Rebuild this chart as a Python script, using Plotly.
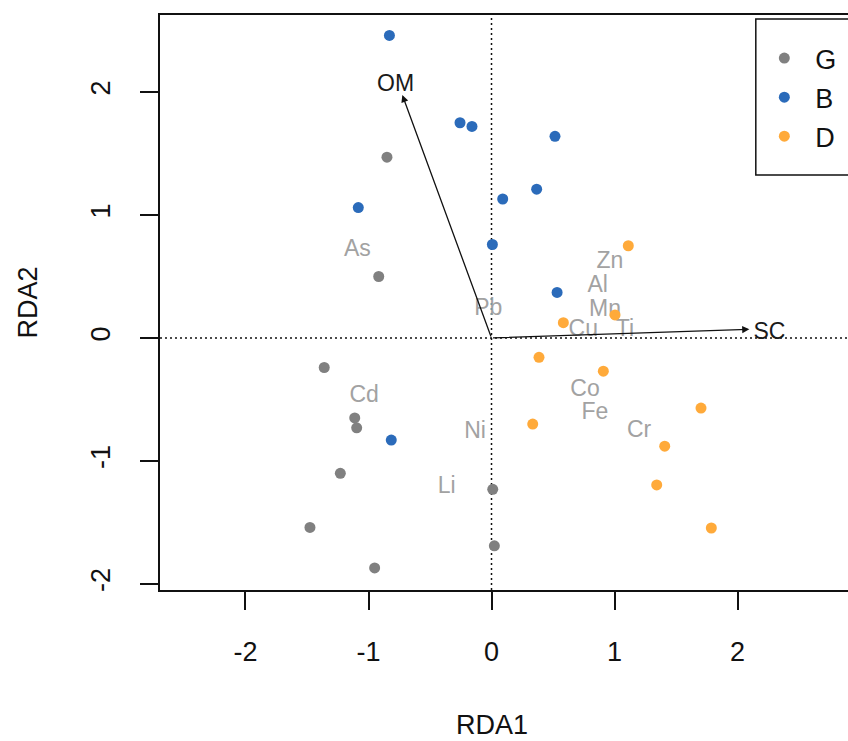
import plotly.graph_objects as go

# ---- site scores (RDA1, RDA2) per group ----
g_x = [-0.85, -0.917, -1.36, -1.112, -1.096, -1.229, 0.01, -1.476, 0.023, -0.95]
g_y = [1.47, 0.50, -0.24, -0.65, -0.73, -1.10, -1.23, -1.54, -1.69, -1.87]
b_x = [-0.83, -0.256, -0.159, 0.516, 0.367, 0.091, -1.083, 0.007, 0.533, -0.815]
b_y = [2.46, 1.75, 1.72, 1.64, 1.21, 1.13, 1.06, 0.76, 0.37, -0.83]
d_x = [1.112, 1.004, 0.584, 0.386, 0.909, 1.703, 0.335, 1.408, 1.343, 1.787]
d_y = [0.75, 0.187, 0.124, -0.157, -0.27, -0.57, -0.70, -0.88, -1.195, -1.545]

# ---- species scores (labels) ----
sp_names = ["As", "Pb", "Zn", "Al", "Mn", "Cu", "Ti", "Cd", "Co", "Fe", "Cr", "Ni", "Li"]
sp_x = [-1.09, -0.026, 0.963, 0.863, 0.923, 0.746, 1.085, -1.035, 0.76, 0.84, 1.20, -0.134, -0.364]
sp_y = [0.715, 0.235, 0.615, 0.42, 0.225, 0.06, 0.065, -0.475, -0.425, -0.615, -0.755, -0.765, -1.215]

# ---- biplot arrows (explanatory variables) ----
bp_names = ["OM", "SC"]
bp_x = [-0.725, 2.096]
bp_y = [1.975, 0.07]
bp_lab_x = [-0.78, 2.26]
bp_lab_y = [2.055, 0.04]

ticks = [-2, -1, 0, 1, 2]
tick_text = ["-2", "-1", "0", "1", "2"]

GRAY = "#808080"
BLUE = "#2B6BBA"
ORANGE = "#FFAA3A"
FONT = "Liberation Sans, Arial, sans-serif"

fig = go.Figure()

# species labels
fig.add_trace(go.Scatter(x=sp_x, y=sp_y, mode="text", text=sp_names,
                         textfont=dict(family=FONT, size=23, color="#A2A2A2"),
                         showlegend=False, hoverinfo="skip"))

for name, xs, ys, col in [("G", g_x, g_y, GRAY), ("B", b_x, b_y, BLUE), ("D", d_x, d_y, ORANGE)]:
    fig.add_trace(go.Scatter(x=xs, y=ys, mode="markers", name=name, legendgroup=name,
                             marker=dict(color=col, size=11, line=dict(width=0))))

# biplot labels
fig.add_trace(go.Scatter(x=bp_lab_x, y=bp_lab_y, mode="text", text=bp_names,
                         textfont=dict(family=FONT, size=23, color="#1a1a1a"),
                         showlegend=False, hoverinfo="skip"))

# arrows
for i in range(len(bp_names)):
    fig.add_annotation(x=bp_x[i], y=bp_y[i], ax=0, ay=0, xref="x", yref="y",
                       axref="x", ayref="y", text="", showarrow=True,
                       arrowhead=2, arrowsize=1.1, arrowwidth=1.3, arrowcolor="#111")

# dotted zero lines
fig.add_shape(type="line", xref="x", yref="paper", x0=0, x1=0, y0=0, y1=1,
              line=dict(color="#111", width=1.5, dash="2px,3px"), layer="below")
fig.add_shape(type="line", xref="paper", yref="y", x0=0, x1=1, y0=0, y1=0,
              line=dict(color="#111", width=1.5, dash="2px,3px"), layer="below")

# legend box (right side runs off the page, as in the reference)
fig.add_shape(type="rect", xref="paper", yref="paper", x0=0.866, x1=1.2, y0=0.7217, y1=0.993,
              line=dict(color="#111", width=1.5), fillcolor="rgba(0,0,0,0)")

# axis titles
fig.add_annotation(text="RDA1", xref="paper", yref="paper", x=0.4826, y=-0.2348,
                   xanchor="center", yanchor="middle",
                   showarrow=False, font=dict(family=FONT, size=27, color="#111"))
fig.add_annotation(text="RDA2", xref="paper", yref="paper", x=-0.192, y=0.5,
                   xanchor="center", yanchor="middle",
                   textangle=-90, showarrow=False, font=dict(family=FONT, size=27, color="#111"))

axis_common = dict(showgrid=False, zeroline=False, ticks="outside", ticklen=18,
                   tickwidth=1.5, tickcolor="#111", showline=True, linecolor="#111",
                   linewidth=1.5, tickfont=dict(family=FONT, size=27, color="#111"),
                   tickvals=ticks, ticktext=tick_text)

fig.update_layout(
    width=848, height=741,
    margin=dict(l=160, r=0, t=15, b=151, autoexpand=False),
    plot_bgcolor="white", paper_bgcolor="white",
    xaxis=dict(range=[-2.695, 2.898], mirror=True,
               ticklabelstandoff=19, **axis_common),
    yaxis=dict(range=[-2.049, 2.626], tickangle=-90, mirror=False,
               ticklabelstandoff=19, **axis_common),
    legend=dict(x=0.8624, y=0.967, xanchor="left", yanchor="top",
                bgcolor="rgba(0,0,0,0)", borderwidth=0, itemwidth=52,
                tracegroupgap=1, font=dict(family=FONT, size=27, color="#111")),
    font=dict(family=FONT),
)

fig.write_html("out.html", config={"displayModeBar": False},
               post_script="document.body.style.margin='0';document.body.style.overflow='hidden';")
